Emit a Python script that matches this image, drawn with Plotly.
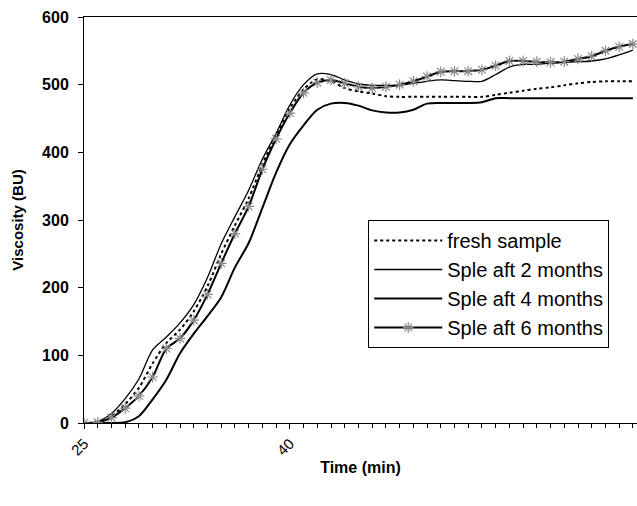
import plotly.graph_objects as go

time_min = list(range(25, 66))

fresh_sample = [0, 1, 10, 28, 52, 88, 118, 138, 165, 202, 250, 292, 332, 382, 425, 465,
                493, 508, 505, 495, 490, 487, 483, 482, 482, 482, 482, 482, 482, 482,
                485, 488, 491, 494, 496, 499, 502, 504, 505, 505, 505]

sple_2_months = [0, 2, 14, 36, 65, 108, 127, 148, 175, 215, 265, 305, 344, 390, 428, 470,
                 500, 516, 515, 507, 501, 499, 499, 499, 502, 505, 507, 506, 505, 505,
                 515, 526, 530, 530, 532, 533, 534, 535, 538, 544, 551]

sple_4_months = [0, 0, 0, 1, 10, 35, 64, 103, 132, 158, 186, 230, 266, 318, 370, 412,
                 440, 463, 472, 473, 469, 462, 459, 459, 463, 472, 473, 473, 473, 474,
                 480, 480, 480, 480, 480, 480, 480, 480, 480, 480, 480]

sple_6_months = [0, 1, 8, 22, 40, 68, 110, 125, 152, 190, 236, 280, 320, 375, 420, 458,
                 488, 503, 507, 502, 497, 495, 497, 500, 505, 512, 519, 520, 520, 522,
                 528, 535, 535, 534, 533, 534, 538, 542, 550, 556, 560]

x_tick_vals = [25, 40]
y_tick_vals = [0, 100, 200, 300, 400, 500, 600]

FONT = "Liberation Sans, Arial, sans-serif"

fig = go.Figure()
fig.add_trace(go.Scatter(x=time_min, y=fresh_sample, mode="lines", name="fresh sample",
                         legendgroup="a",
                         line=dict(color="black", width=2, dash="dot", shape="spline", smoothing=0.8)))
fig.add_trace(go.Scatter(x=time_min, y=sple_2_months, mode="lines", name="Sple aft 2 months",
                         legendgroup="b",
                         line=dict(color="black", width=1.3, shape="spline", smoothing=0.8)))
fig.add_trace(go.Scatter(x=time_min, y=sple_4_months, mode="lines", name="Sple aft 4 months",
                         legendgroup="c",
                         line=dict(color="black", width=2, shape="spline", smoothing=0.8)))
fig.add_trace(go.Scatter(x=time_min, y=sple_6_months, mode="lines+markers", name="Sple aft 6 months",
                         legendgroup="d",
                         line=dict(color="black", width=2, shape="spline", smoothing=0.8),
                         marker=dict(symbol="asterisk-open", size=9, color="#888888",
                                     line=dict(color="#888888", width=1.2))))

fig.update_layout(
    width=637, height=506,
    margin=dict(l=84, r=0, t=17, b=83),
    paper_bgcolor="white", plot_bgcolor="white",
    font=dict(family=FONT, color="black", size=13),
    legend=dict(x=0.514, y=0.5, xanchor="left", yanchor="top",
                bordercolor="black", borderwidth=1, bgcolor="white",
                font=dict(size=20, family=FONT, color="black"),
                traceorder="grouped", tracegroupgap=0, itemwidth=68),
    showlegend=True,
)
fig.update_xaxes(range=[25, 65.3], tickvals=x_tick_vals, ticktext=[str(v) for v in x_tick_vals],
                 tickangle=-45, ticks="outside", ticklen=5, tickcolor="black",
                 minor=dict(dtick=1, tick0=25, ticks="outside", ticklen=4, tickcolor="black"),
                 showline=True, linecolor="black", linewidth=1, mirror=True,
                 showgrid=False, zeroline=False,
                 tickfont=dict(size=15, family=FONT, color="black"),
                 title=dict(text="<b>Time (min)</b>", font=dict(size=16, family=FONT, color="black"),
                            standoff=4))
fig.update_yaxes(range=[0, 600], tickvals=y_tick_vals,
                 ticktext=[f"<b>{v}</b>" for v in y_tick_vals],
                 ticks="outside", ticklen=5, tickcolor="black",
                 showline=True, linecolor="black", linewidth=1,
                 showgrid=False, zeroline=False, ticklabelstandoff=6,
                 tickfont=dict(size=16, family=FONT, color="black"),
                 title=dict(text="<b>Viscosity (BU)</b>", font=dict(size=15, family=FONT, color="black"),
                            standoff=14))

fig.write_html("out.html")
